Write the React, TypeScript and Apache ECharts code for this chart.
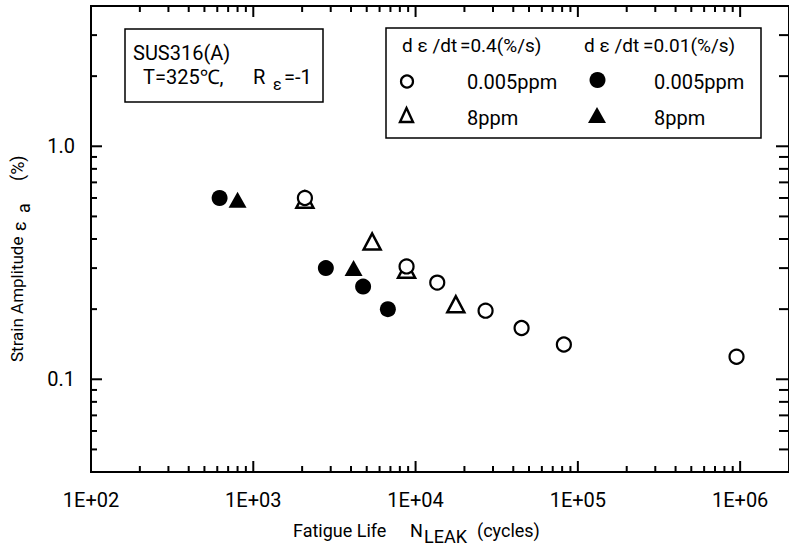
import React, { useEffect, useRef } from 'react';
import * as echarts from 'echarts';

// Axis ranges (log scales)
const X_MIN = 100;
const X_MAX = 2e6;
const Y_MIN = 0.04;
const Y_MAX = 4;

// Decades and minor-tick multipliers (log axes)
const xDecades = [100, 1000, 10000, 100000, 1000000];
const yDecades = [0.01, 0.1, 1];
const tickMultipliers = [1, 2, 3, 4, 5, 6, 7, 8, 9];

// Data: [fatigue life N_LEAK (cycles), strain amplitude (%)]
// dε/dt = 0.4 %/s, 0.005 ppm (open circle)
const fastLowDO = [
  [2080, 0.6],
  [8800, 0.305],
  [13600, 0.26],
  [27000, 0.197],
  [45000, 0.166],
  [82000, 0.141],
  [950000, 0.125],
];
// dε/dt = 0.4 %/s, 8 ppm (open triangle)
const fastHighDO = [
  [2080, 0.59],
  [5400, 0.39],
  [8800, 0.295],
  [17700, 0.21],
];
// dε/dt = 0.01 %/s, 0.005 ppm (filled circle)
const slowLowDO = [
  [620, 0.6],
  [2800, 0.3],
  [4750, 0.25],
  [6750, 0.2],
];
// dε/dt = 0.01 %/s, 8 ppm (filled triangle)
const slowHighDO = [
  [800, 0.59],
  [4150, 0.3],
];

const FONT = 'Roboto, "Noto Sans", sans-serif';

function isPow10(v: number) {
  const e = Math.round(Math.log10(v));
  return Math.abs(v - Math.pow(10, e)) / v < 1e-6 ? e : null;
}

// tick marks (drawn as thin rect symbols through the axes' log scales)
function buildTicks() {
  const items: any[] = [];
  const W = 2;
  xDecades.forEach((b) =>
    tickMultipliers.forEach((m) => {
      const v = b * m;
      if (v <= X_MIN || v >= X_MAX) return;
      const len = m === 1 ? 11 : 6;
      items.push({ value: [v, Y_MIN], symbolSize: [W, len], symbolOffset: [0, -len / 2] });
      items.push({ value: [v, Y_MAX], symbolSize: [W, len], symbolOffset: [0, len / 2] });
    })
  );
  yDecades.forEach((b) =>
    tickMultipliers.forEach((m) => {
      const v = b * m;
      if (v <= Y_MIN * 1.0001 || v >= Y_MAX * 0.9999) return;
      const len = m === 1 ? 11 : 6;
      const rlen = m === 1 ? 13 : 10;
      items.push({ value: [X_MIN, v], symbolSize: [len, W], symbolOffset: [len / 2, 0] });
      items.push({ value: [X_MAX, v], symbolSize: [rlen, W], symbolOffset: [-rlen / 2, 0] });
    })
  );
  return items;
}

function txt(text: string, x: number, y: number, size = 20, extra: any = {}) {
  return {
    type: 'text',
    x,
    y,
    silent: true,
    z: 21,
    ...extra,
    style: {
      text,
      fill: '#000',
      font: `${size}px ${FONT}`,
      align: 'left',
      verticalAlign: 'middle',
      textAlign: 'left',
      textVerticalAlign: 'middle',
    },
  };
}

export default function App() {
  const ref = useRef<HTMLDivElement>(null);
  useEffect(() => {
    if (!ref.current) return;
    const chart = echarts.init(ref.current, undefined, { renderer: 'svg' });
    const rotated = { rotation: Math.PI / 2 };
    const graphic: any[] = [
      // condition box
      {
        type: 'rect',
        shape: { x: 125, y: 29, width: 198, height: 73 },
        style: { fill: '#fff', stroke: '#000', lineWidth: 1.5 },
        silent: true,
        z: 20,
      },
      txt('SUS316(A)', 133, 53),
      txt('T=325℃,', 143, 77),
      txt('R', 253, 77),
      txt('ε', 273, 84, 16),
      txt('=-1', 284, 77),
      // legend box
      {
        type: 'rect',
        shape: { x: 386, y: 28, width: 375, height: 110 },
        style: { fill: '#fff', stroke: '#000', lineWidth: 1.5 },
        silent: true,
        z: 20,
      },
      txt('d ε /dt', 402, 45, 19),
      txt('=0.4(%/s)', 460, 45, 19),
      txt('d ε /dt', 584, 45, 19),
      txt('=0.01(%/s)', 643, 45, 19),
      {
        type: 'circle',
        shape: { cx: 407, cy: 81.5, r: 6 },
        style: { fill: '#fff', stroke: '#000', lineWidth: 2.2 },
        z: 21,
        silent: true,
      },
      txt('0.005ppm', 467, 82),
      {
        type: 'circle',
        shape: { cx: 597.5, cy: 80, r: 8 },
        style: { fill: '#000' },
        z: 21,
        silent: true,
      },
      txt('0.005ppm', 654, 82),
      {
        type: 'polygon',
        shape: { points: [[406.5, 108], [413, 122], [400, 122]] },
        style: { fill: '#fff', stroke: '#000', lineWidth: 2.4 },
        z: 21,
        silent: true,
      },
      txt('8ppm', 467, 118),
      {
        type: 'polygon',
        shape: { points: [[597, 107], [606, 123], [588, 123]] },
        style: { fill: '#000' },
        z: 21,
        silent: true,
      },
      txt('8ppm', 654, 118),
      // x axis title
      txt('Fatigue Life', 293, 530, 18),
      txt('N', 410, 530, 18),
      txt('LEAK', 424, 536, 18),
      txt('(cycles)', 477, 530, 18),
      // y axis title (rotated)
      txt('Strain Amplitude', 17, 362, 17, rotated),
      txt('ε', 19, 231, 18, rotated),
      txt('a', 23, 213, 18, rotated),
      txt('(%)', 17, 181, 18, rotated),
    ];

    const option: any = {
      animation: false,
      backgroundColor: '#fff',
      grid: {
        left: 91,
        top: 6,
        width: 699,
        height: 466,
        show: true,
        borderColor: '#000',
        borderWidth: 2,
        backgroundColor: 'transparent',
      },
      xAxis: {
        type: 'log',
        logBase: 10,
        min: X_MIN,
        max: X_MAX,
        axisLine: { show: true, onZero: false, lineStyle: { color: '#000', width: 2 } },
        axisTick: { show: false },
        splitLine: { show: false },
        axisLabel: {
          color: '#000',
          fontSize: 20,
          fontFamily: FONT,
          margin: 18,
          showMaxLabel: false,
          formatter: (v: number) => {
            const e = isPow10(v);
            return e === null ? '' : `1E+0${e}`;
          },
        },
      },
      yAxis: {
        type: 'log',
        logBase: 10,
        min: Y_MIN,
        max: Y_MAX,
        axisLine: { show: true, onZero: false, lineStyle: { color: '#000', width: 2 } },
        axisTick: { show: false },
        splitLine: { show: false },
        axisLabel: {
          color: '#000',
          fontSize: 20,
          fontFamily: FONT,
          margin: 16,
          showMaxLabel: false,
          showMinLabel: false,
          formatter: (v: number) => {
            const e = isPow10(v);
            if (e === null) return '';
            return e === 0 ? '1.0' : e === -1 ? '0.1' : '';
          },
        },
      },
      series: [
        {
          name: 'ticks',
          type: 'scatter',
          symbol: 'rect',
          clip: false,
          silent: true,
          z: 5,
          itemStyle: { color: '#000', opacity: 1 },
          data: buildTicks(),
        },
        {
          name: '0.4 %/s, 8ppm',
          type: 'scatter',
          symbol: 'triangle',
          symbolSize: [17, 16],
          silent: true,
          z: 10,
          itemStyle: { color: '#fff', borderColor: '#000', borderWidth: 2.5, opacity: 1 },
          data: fastHighDO,
        },
        {
          name: '0.4 %/s, 0.005ppm',
          type: 'scatter',
          symbol: 'circle',
          symbolSize: 14,
          silent: true,
          z: 11,
          itemStyle: { color: '#fff', borderColor: '#000', borderWidth: 2.2, opacity: 1 },
          data: fastLowDO,
        },
        {
          name: '0.01 %/s, 0.005ppm',
          type: 'scatter',
          symbol: 'circle',
          symbolSize: 16,
          silent: true,
          z: 12,
          itemStyle: { color: '#000', opacity: 1 },
          data: slowLowDO,
        },
        {
          name: '0.01 %/s, 8ppm',
          type: 'scatter',
          symbol: 'triangle',
          symbolSize: [18, 16],
          silent: true,
          z: 12,
          itemStyle: { color: '#000', opacity: 1 },
          data: slowHighDO,
        },
      ],
      graphic,
    };
    chart.setOption(option);
    return () => chart.dispose();
  }, []);
  return (
    <div
      ref={ref}
      style={{ position: 'fixed', left: 0, top: 0, width: 789, height: 547, background: '#fff' }}
    />
  );
}
